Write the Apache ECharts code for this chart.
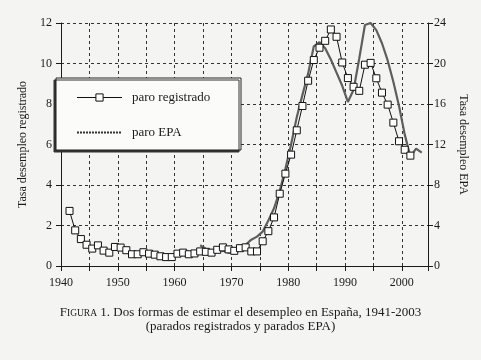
<!DOCTYPE html>
<html>
<head>
<meta charset="utf-8">
<script src="https://cdn.jsdelivr.net/npm/echarts@6/dist/echarts.min.js"></script>
<style>
html,body{margin:0;padding:0;background:#f4f4f2;}
#c{width:481px;height:360px;}
</style>
</head>
<body>
<div id="c"></div>
<script>
// Paro registrado (left axis, %), plotted at mid-year
var regYears = [1941,1942,1943,1944,1945,1946,1947,1948,1949,1950,
  1951,1952,1953,1954,1955,1956,1957,1958,1959,1960,
  1961,1962,1963,1964,1965,1966,1967,1968,1969,1970,
  1971,1972,1973,1974,1975,1976,1977,1978,1979,1980,
  1981,1982,1983,1984,1985,1986,1987,1988,1989,1990,
  1991,1992,1993,1994,1995,1996,1997,1998,1999,2000,2001];
var regValues = [2.72,1.76,1.33,1.05,0.86,1.02,0.76,0.66,0.94,0.91,
  0.78,0.58,0.58,0.68,0.61,0.56,0.48,0.44,0.44,0.61,
  0.66,0.58,0.62,0.72,0.70,0.66,0.80,0.92,0.82,0.75,
  0.88,0.92,0.72,0.72,1.22,1.72,2.40,3.57,4.56,5.50,
  6.70,7.90,9.15,10.17,10.78,11.12,11.68,11.32,10.05,9.28,
  8.85,8.65,9.94,10.03,9.27,8.56,7.97,7.08,6.16,5.74,5.45];
// Paro EPA (right axis, %), plotted at mid-year
var epaYears = [1964,1965,1966,1967,1968,1969,1970,1971,1972,1973,
  1974,1975,1976,1977,1978,1979,1980,1981,1982,1983,
  1984,1985,1986,1987,1988,1989,1990,1991,1992,1993,
  1994,1995,1996,1997,1998,1999,2000,2001,2002,2003];
var epaValues = [2.05,1.7,1.4,1.6,1.5,1.3,1.4,1.7,2.1,2.6,
  2.9,3.4,4.5,5.7,7.4,9.6,12.0,14.7,16.9,19.0,
  21.7,22.1,21.5,20.4,19.1,17.8,16.2,17.4,20.5,23.8,
  24.0,23.3,22.0,20.3,18.2,15.8,13.0,10.8,11.6,11.2];
var xTicks = [1940,1950,1960,1970,1980,1990,2000];
var leftTicks = [0,2,4,6,8,10,12];
var rightTicks = [0,4,8,12,16,20,24];

var serif = '"Liberation Serif","DejaVu Serif",serif';
var ink = '#1a1a1a';
var chart = echarts.init(document.getElementById('c'), null, {renderer:'canvas'});
var gridLine = {show:true, lineStyle:{color:'#333', width:1, type:[3,3]}};

chart.setOption({
  backgroundColor:'#f4f4f2',
  animation:false,
  title:{
    left:'center', top:301,
    text:'{sc|F}{sm|IGURA} 1. Dos formas de estimar el desempleo en España, 1941-2003\n(parados registrados y parados EPA)',
    textStyle:{fontFamily:serif, fontSize:13, fontWeight:'normal', color:ink, lineHeight:14,
      rich:{sc:{fontFamily:serif, fontSize:13, color:ink}, sm:{fontFamily:serif, fontSize:9.5, color:ink}}}
  },
  grid:{left:61, right:53, top:23, bottom:94},
  graphic:[{
    type:'rect', z:50,
    shape:{x:56, y:78, width:185, height:72},
    style:{fill:'#fbfbfa', stroke:'#222', lineWidth:1, shadowColor:'#333', shadowOffsetX:-2, shadowOffsetY:2, shadowBlur:0}
  }],
  legend:{
    z:60, orient:'vertical', left:76, top:91, padding:0,
    itemWidth:45, itemHeight:9, itemGap:22,
    textStyle:{fontFamily:serif, fontSize:13, color:ink, padding:[0,0,0,5]},
    data:[
      {name:'paro registrado', itemStyle:{color:'#ffffff', borderColor:'#111', borderWidth:1}, lineStyle:{color:'#111', width:1}},
      {name:'paro EPA', itemStyle:{opacity:0}, lineStyle:{color:'#333', width:2, type:[2,1]}}
    ]
  },
  xAxis:{
    type:'value', min:1940, max:2004.6, interval:5,
    axisLine:{show:true, lineStyle:{color:ink, width:1}},
    axisTick:{show:true, length:5, lineStyle:{color:ink}},
    axisLabel:{fontFamily:serif, fontSize:12, color:ink, margin:11,
      formatter:function(v){ return xTicks.indexOf(v) >= 0 ? String(v) : ''; }},
    splitLine:gridLine
  },
  yAxis:[{
    type:'value', min:0, max:12, interval:2, position:'left',
    name:'Tasa desempleo registrado', nameLocation:'middle', nameGap:30,
    nameTextStyle:{fontFamily:serif, fontSize:12, color:ink},
    axisLine:{show:true, lineStyle:{color:ink, width:1}},
    axisTick:{show:true, length:5, lineStyle:{color:ink}},
    axisLabel:{fontFamily:serif, fontSize:12, color:ink, margin:9,
      formatter:function(v){ return leftTicks.indexOf(v) >= 0 ? String(v) : ''; }},
    splitLine:gridLine
  },{
    type:'value', min:0, max:24, interval:4, position:'right',
    name:'Tasa desempleo EPA', nameLocation:'middle', nameGap:28, nameRotate:-90,
    nameTextStyle:{fontFamily:serif, fontSize:12, color:ink},
    axisLine:{show:true, lineStyle:{color:ink, width:1}},
    axisTick:{show:true, length:5, lineStyle:{color:ink}},
    axisLabel:{fontFamily:serif, fontSize:12, color:ink, margin:6,
      formatter:function(v){ return rightTicks.indexOf(v) >= 0 ? String(v) : ''; }},
    splitLine:{show:false}
  }],
  series:[{
    name:'paro registrado', type:'line', yAxisIndex:0, z:4,
    data:regYears.map(function(y,i){ return [y+0.5, regValues[i]]; }),
    symbol:'rect', symbolSize:7, showSymbol:true,
    itemStyle:{color:'#ffffff', borderColor:'#111', borderWidth:1},
    lineStyle:{color:'#111', width:1}
  },{
    name:'paro EPA', type:'line', yAxisIndex:1, z:3,
    data:epaYears.map(function(y,i){ return [y+0.5, epaValues[i]]; }),
    symbol:'none', showSymbol:false,
    itemStyle:{color:'#555'},
    lineStyle:{color:'#5e5e5e', width:2.2, type:'solid'}
  }]
});
</script>
</body>
</html>
